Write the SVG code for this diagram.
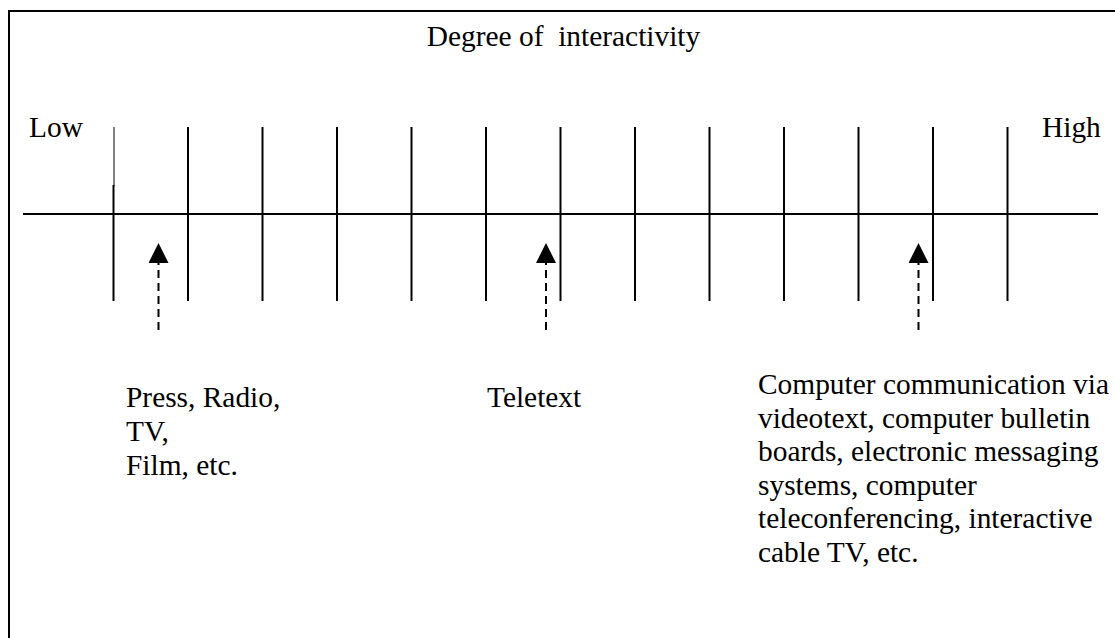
<svg xmlns="http://www.w3.org/2000/svg" width="1115" height="638" viewBox="0 0 1115 638">
<style>
text{font-family:"Liberation Serif","Times New Roman",serif;font-size:29.4px;fill:#000}
.pre{white-space:pre}
.tick{stroke:#000;stroke-width:2}
.axis{stroke:#000;stroke-width:2}
.frame{stroke:#000;stroke-width:2;fill:none}
.ptr{stroke:#000;stroke-width:2;stroke-dasharray:8 5;fill:none}
</style>
<defs>
<marker id="ah" markerUnits="userSpaceOnUse" markerWidth="20" markerHeight="20" refX="0" refY="10" orient="auto" viewBox="0 0 20 20">
<path d="M0,0 L20,10 L0,20 z" fill="#000"/>
</marker>
</defs>
<rect width="1115" height="638" fill="#fff"/>
<path class="frame" d="M9,638 V11 H1115"/>
<g id="title"><text class="pre" xml:space="preserve" x="563.5" y="46" text-anchor="middle">Degree of  interactivity</text></g>
<g id="low"><text x="29" y="137">Low</text></g>
<g id="high"><text x="1042" y="137">High</text></g>
<g id="scale">
<line class="axis" x1="23" y1="214" x2="1098" y2="214"/>
<line stroke="#000" stroke-width="1" x1="114" y1="127" x2="114" y2="186"/>
<line class="tick" x1="113.5" y1="185" x2="113.5" y2="301"/>
<line class="tick" x1="188" y1="127" x2="188" y2="301"/>
<line class="tick" x1="262.5" y1="127" x2="262.5" y2="301"/>
<line class="tick" x1="337" y1="127" x2="337" y2="301"/>
<line class="tick" x1="411.5" y1="127" x2="411.5" y2="301"/>
<line class="tick" x1="486" y1="127" x2="486" y2="301"/>
<line class="tick" x1="560.5" y1="127" x2="560.5" y2="301"/>
<line class="tick" x1="635" y1="127" x2="635" y2="301"/>
<line class="tick" x1="709.5" y1="127" x2="709.5" y2="301"/>
<line class="tick" x1="784" y1="127" x2="784" y2="301"/>
<line class="tick" x1="858.5" y1="127" x2="858.5" y2="301"/>
<line class="tick" x1="933" y1="127" x2="933" y2="301"/>
<line class="tick" x1="1007.5" y1="127" x2="1007.5" y2="301"/>
</g>
<g id="connectors">
<line class="ptr" x1="158.5" y1="330" x2="158.5" y2="263" marker-end="url(#ah)"/>
<line class="ptr" x1="546" y1="330" x2="546" y2="263" marker-end="url(#ah)"/>
<line class="ptr" x1="918.5" y1="330" x2="918.5" y2="263" marker-end="url(#ah)"/>
</g>
<g id="mass-media">
<text x="126" y="407">Press, Radio,</text>
<text x="126" y="441">TV,</text>
<text x="126" y="475">Film, etc.</text>
</g>
<g id="teletext"><text x="487" y="407">Teletext</text></g>
<g id="computer-communication">
<text x="758" y="394">Computer communication via</text>
<text x="758" y="428">videotext, computer bulletin</text>
<text x="758" y="461">boards, electronic messaging</text>
<text x="758" y="495">systems, computer</text>
<text x="758" y="528">teleconferencing, interactive</text>
<text x="758" y="562">cable TV, etc.</text>
</g>
</svg>
